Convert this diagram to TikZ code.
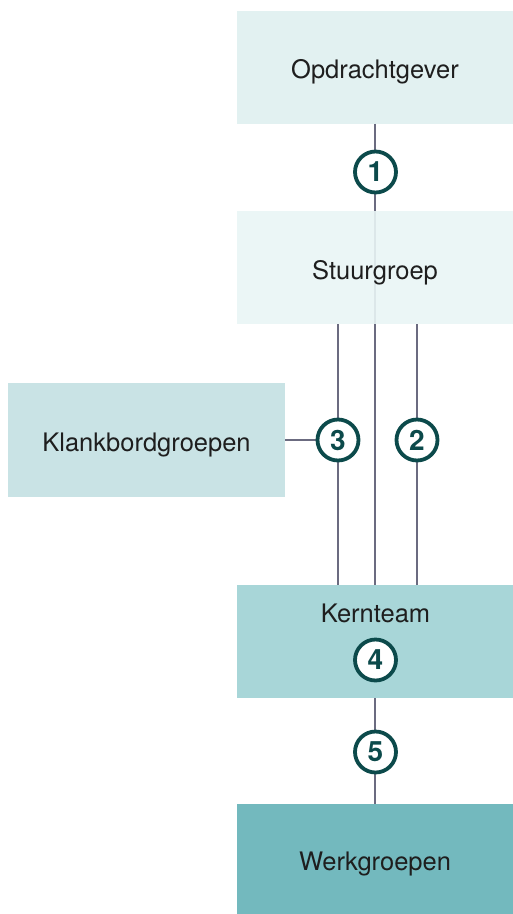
\documentclass[tikz,border=0pt]{standalone}
\usepackage{fontspec}
\setmainfont{TeX Gyre Heros}
\definecolor{cOpd}{HTML}{E2F1F1}
\definecolor{cStuur}{HTML}{E9F5F5}
\definecolor{cKlank}{HTML}{C9E3E5}
\definecolor{cKern}{HTML}{A8D6D8}
\definecolor{cWerk}{HTML}{73B9BE}
\definecolor{cLine}{HTML}{6B6B80}
\definecolor{cNum}{HTML}{0C4A4B}
\definecolor{cText}{HTML}{1E1E1E}
\newcommand\lowerit[1]{\raisebox{-5pt}[\height][\depth]{#1}}
\begin{document}
\begin{tikzpicture}[x=1pt,y=-1pt,
  box/.style={rectangle, inner sep=0pt, minimum width=276pt, minimum height=113pt, text=cText, font=\fontsize{25.5}{28}\selectfont},
  num/.style={circle, draw=cNum, line width=3.8pt, fill=white, minimum size=41pt, inner sep=0pt, text=cNum, font=\fontsize{28}{30}\selectfont\bfseries},
  conn/.style={draw=cLine, line width=1.4pt}]
\useasboundingbox (0,0) rectangle (513,914);
\node[box, fill=cOpd] (opd) at (375,67) {\lowerit{Opdrachtgever}};
\node[box, fill=cKern] (kern) at (375,641.5) {};
\node[box, fill=cWerk, minimum height=110pt] (werk) at (375,859) {\lowerit{Werkgroepen}};
\node[box, fill=cKlank, minimum width=277pt, minimum height=114pt] (klank) at (146.5,440) {\lowerit{Klankbordgroepen}};
\path[conn] (opd.south) -- (kern.north);
\node[box, fill=cStuur, fill opacity=0.9, text opacity=1] (stuur) at (375,267.5) {\lowerit{Stuurgroep}};
\coordinate (c3pos) at (338,440);
\coordinate (c2pos) at (417,440);
\path[conn] (c3pos |- stuur.south) -- (c3pos |- kern.north);
\path[conn] (c2pos |- stuur.south) -- (c2pos |- kern.north);
\path[conn] (stuur.south) -- (kern.north);
\path[conn] (kern.south) -- (werk.north);
\path[conn] (klank.east) -- (c3pos);
\node[num] (n1) at (375.5,172) {1};
\node[num] (n3) at (c3pos) {3};
\node[num] (n2) at (c2pos) {2};
\node[num] (n4) at (375.5,660) {4};
\node[num] (n5) at (375.5,752) {5};
\node[text=cText, font=\fontsize{25.5}{28}\selectfont] (kernlbl) at (375.5,613) {Kernteam};
\end{tikzpicture}
\end{document}
